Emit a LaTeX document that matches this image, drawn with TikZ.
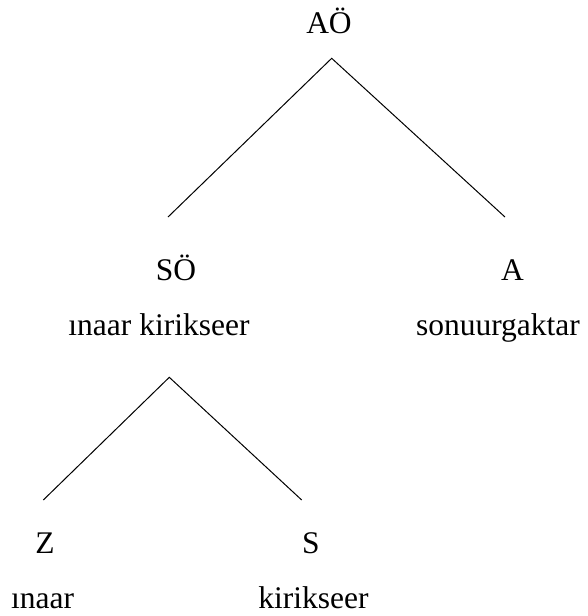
\documentclass[tikz,border=0pt]{standalone}
\usepackage{fontspec}
\setmainfont{Liberation Serif}
\usetikzlibrary{positioning}

\begin{document}
\begin{tikzpicture}[x=0.4pt,y=-0.4pt,thin,
  cat node/.style={anchor=base,inner sep=0pt,font=\fontsize{12.6}{15}\selectfont},
  word node/.style={cat node}]

  \useasboundingbox (0,0) rectangle (588,616);

  % Categories
  \node[cat node] (AO) at (329,33) {AÖ};
  \node[cat node] (SO) at (176,280) {SÖ};
  \node[cat node] (A) at (512.5,280) {A};
  \node[cat node] (Z) at (45,553) {Z};
  \node[cat node] (S) at (311,553) {S};

  % Words
  \node[word node] (SOw) at (159,335) {ınaar kirikseer};
  \node[word node] (Aw) at (498,335) {sonuurgaktar};
  \node[word node] (Zw) at (42.5,608) {ınaar};
  \node[word node] (Sw) at (313.5,608) {kirikseer};

  % Branch points
  \coordinate (AOtop) at (331.7,58.3);
  \coordinate (SOend) at (168,217);
  \coordinate (Aend) at (505,217);
  \coordinate (SOtop) at (169.3,377.3);
  \coordinate (Zend) at (43.3,500);
  \coordinate (Send) at (301.7,500);

  % Branches
  \draw (SOend) -- (AOtop) -- (Aend);
  \draw (Zend) -- (SOtop) -- (Send);

\end{tikzpicture}
\end{document}
